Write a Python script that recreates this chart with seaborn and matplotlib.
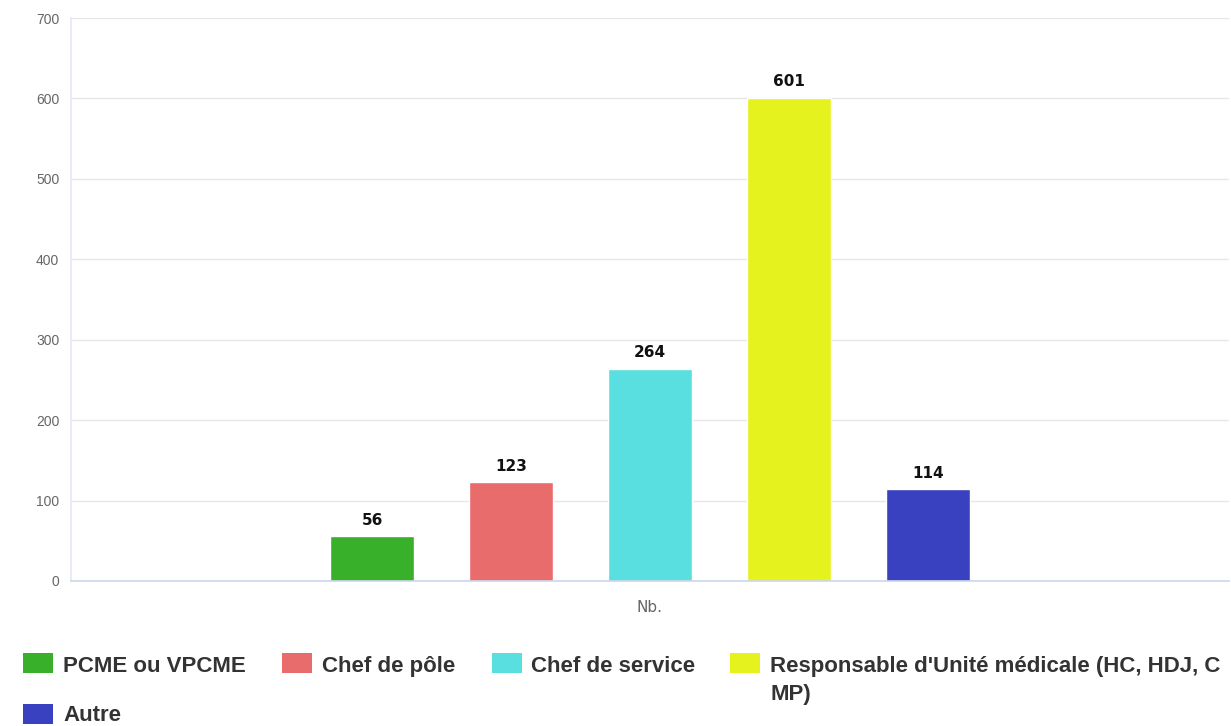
import matplotlib
matplotlib.use("Agg")
import matplotlib.pyplot as plt
from matplotlib.patches import Rectangle
import seaborn as sns
import pandas as pd

# Data
category = ["Nb."]
series = [
    "PCME ou VPCME",
    "Chef de pôle",
    "Chef de service",
    "Responsable d'Unité médicale (HC, HDJ, C\nMP)",
    "Autre",
]
values = [56, 123, 264, 601, 114]
colors = ["#38b02a", "#e86c6c", "#5adfe0", "#e6f21e", "#3a41c0"]
y_ticks = [0, 100, 200, 300, 400, 500, 600, 700]

sns.set_theme(style="white")
plt.rcParams["font.family"] = ["Liberation Sans", "DejaVu Sans"]

W, H = 1231, 726
fig = plt.figure(figsize=(W / 100, H / 100), dpi=100)
ax = fig.add_axes([71 / W, 1 - 581 / H, (1229 - 71) / W, (581 - 18) / H])

df = pd.DataFrame({
    "categorie": category * len(series),
    "serie": series,
    "valeur": values,
})

sns.barplot(
    data=df, x="categorie", y="valeur", hue="serie",
    hue_order=series, palette=colors, saturation=1,
    width=0.6, gap=0.39, errorbar=None, legend=False, ax=ax,
)

for cont in ax.containers:
    ax.bar_label(cont, fmt="%d", padding=6, fontsize=11,
                 fontweight="bold", color="#111111", family="DejaVu Sans")

ax.set_xlim(-0.5, 0.5)
ax.set_ylim(0, 700)
ax.set_yticks(y_ticks)
ax.set_yticklabels([str(v) for v in y_ticks], fontsize=10, color="#666666")
ax.tick_params(axis="y", length=0, pad=8.5)
ax.set_xticks([0])
ax.set_xticklabels(category, fontsize=11, color="#666666", family="DejaVu Sans")
ax.set_xticks([-0.5, 0.5], minor=True)
ax.tick_params(axis="x", which="major", length=0, pad=14)
ax.tick_params(axis="x", which="minor", length=11.5, width=1, color="#ccd6eb")
ax.set_xlabel("")
ax.set_ylabel("")

ax.yaxis.grid(True, color="#e6e6e6", linewidth=1)
ax.set_axisbelow(True)
for side in ("top", "right"):
    ax.spines[side].set_visible(False)
ax.spines["bottom"].set_color("#ccd6eb")
ax.spines["bottom"].set_linewidth(1.2)
ax.spines["left"].set_color("#e3e9f2")
ax.spines["left"].set_linewidth(1.2)

# Legend below the plot (pixel layout: square left edge, text left edge,
# square centre, baseline of the last text line)
legend_slots = [(23, 63, 663, 672), (282, 322, 663, 672), (492, 531, 663, 672),
                (730, 770, 663, 700), (23, 63, 714, 721)]
sq_w, sq_h = 30, 20
for (sx, tx, cy, base), name, col in zip(legend_slots, series, colors):
    fig.add_artist(Rectangle(
        (sx / W, 1 - (cy + sq_h / 2) / H), sq_w / W, sq_h / H,
        transform=fig.transFigure, facecolor=col, edgecolor="none"))
    fig.text(tx / W, 1 - base / H, name, ha="left", va="baseline",
             fontsize=16, fontweight="bold", color="#333333",
             linespacing=1.45)

fig.savefig("out.png", dpi=100, facecolor="white")
